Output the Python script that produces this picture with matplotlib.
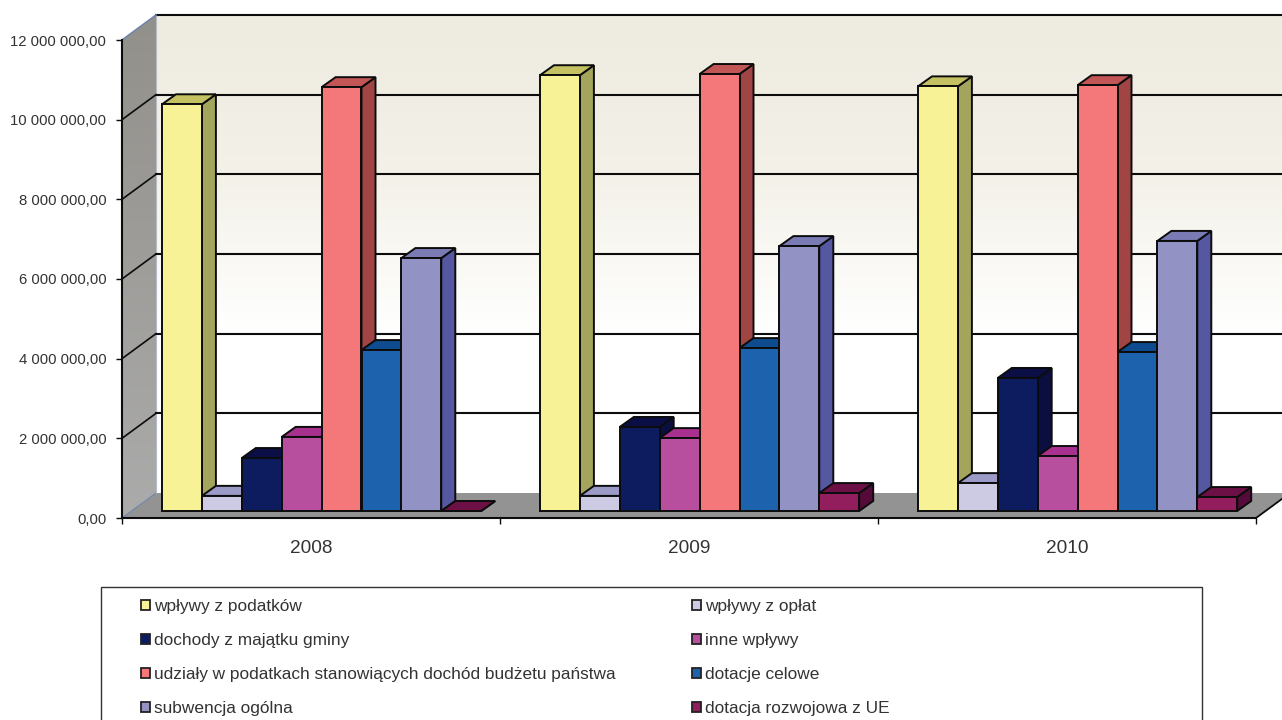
import matplotlib
matplotlib.use('Agg')
import matplotlib.pyplot as plt
import numpy as np
from matplotlib.colors import LinearSegmentedColormap
from matplotlib.patches import Patch, Polygon, Rectangle

plt.rcParams['font.family'] = ['Liberation Sans', 'DejaVu Sans']

# dane
years = ['2008', '2009', '2010']
labels = ['wpływy z podatków', 'wpływy z opłat', 'dochody z majątku gminy', 'inne wpływy',
          'udziały w podatkach stanowiących dochód budżetu państwa', 'dotacje celowe',
          'subwencja ogólna', 'dotacja rozwojowa z UE']
podatki = [10210000, 10940000, 10660000]
oplaty = [380000, 380000, 700000]
majatek = [1330000, 2110000, 3340000]
inne = [1860000, 1830000, 1380000]
udzialy = [10640000, 10970000, 10690000]
celowe = [4040000, 4090000, 3990000]
subwencja = [6350000, 6650000, 6780000]
rozwojowa = [0, 450000, 350000]
series = [podatki, oplaty, majatek, inne, udzialy, celowe, subwencja, rozwojowa]
y_ticks = [0, 2000000, 4000000, 6000000, 8000000, 10000000, 12000000]

# kolory: przód, bok, góra
front = ['#F8F297', '#CCCBE3', '#0D1C5E', '#B84F9E', '#F4777A', '#1C62AC', '#9392C5', '#931E5E']
side = ['#A3A55C', '#8080B0', '#0B0F40', '#8A2A78', '#A04444', '#0E4584', '#5558A0', '#560A3A']
top = ['#C4C163', '#9C9BC8', '#0B0F45', '#A8308F', '#C25555', '#0E4C8F', '#7A7BB5', '#6C1045']

ink = '#0C0C0C'
text_col = '#333333'

# przeliczenie pikseli na jednostki osi
sx = 1 / 378
sy = 12e6 / 478
wall_dx, wall_dy = 34 * sx, 25 * sy
bar_dx, bar_dy = 14 * sx, 10 * sy
bar_w = 39.9 * sx
bar_start = 40 * sx
lift = 7 * sy
x_max = 1160 * sx
y_max = 518 * sy

fig = plt.figure(figsize=(12.82, 7.2), dpi=100)
ax = fig.add_axes([122 / 1282, 202 / 720, 1160 / 1282, 518 / 720])
ax.patch.set_visible(False)

# tylna ściana z gradientem
wall_cmap = LinearSegmentedColormap.from_list('wall', ['#EEEBE0', '#F3F1E8', '#FFFFFF', '#FFFFFF'])
ax.imshow(np.linspace(0, 1, 256).reshape(-1, 1), cmap=wall_cmap, aspect='auto', zorder=1,
          extent=[wall_dx, x_max, wall_dy, 12e6 + wall_dy], origin='upper')

# lewa ściana
side_cmap = LinearSegmentedColormap.from_list('side', ['#92908A', '#ABABAB'])
im = ax.imshow(np.linspace(0, 1, 256).reshape(-1, 1), cmap=side_cmap, aspect='auto', zorder=1,
               extent=[0, wall_dx, 0, 12e6 + wall_dy], origin='upper')
clip = Polygon([(0, 0), (wall_dx, wall_dy), (wall_dx, 12e6 + wall_dy), (0, 12e6)],
               transform=ax.transData)
im.set_clip_path(clip)
ax.set_xlim(0, x_max)
ax.set_ylim(0, y_max)

# podłoga
ax.add_patch(Polygon([(0, 0), (3, 0), (3 + wall_dx, wall_dy), (wall_dx, wall_dy)],
                     facecolor='#939393', edgecolor='none', zorder=2))
ax.plot([3, 3 + wall_dx], [0, wall_dy], color=ink, lw=1.3, zorder=3)
ax.plot([0, wall_dx], [0, wall_dy], color='#6F86A8', lw=0.8, zorder=3)
ax.plot([wall_dx, wall_dx], [wall_dy, 12e6 + wall_dy], color='#B5BBCB', lw=0.8, zorder=3)

# siatka
for t in y_ticks[1:]:
    ax.plot([wall_dx, x_max], [t + wall_dy, t + wall_dy], color=ink, lw=1.5, zorder=3)
    col = '#6F86A8' if t == 12000000 else ink
    ax.plot([0, wall_dx], [t, t + wall_dy], color=col, lw=1.2, zorder=3)

# słupki rysowane od lewej do prawej, żeby się poprawnie zasłaniały
z = 5
for g in range(len(years)):
    for s, vals in enumerate(series):
        v = vals[g]
        x0 = g + bar_start + s * bar_w
        x1 = x0 + bar_w
        y0 = lift
        y1 = lift + v
        ax.add_patch(Polygon([(x1, y0), (x1 + bar_dx, y0 + bar_dy), (x1 + bar_dx, y1 + bar_dy), (x1, y1)],
                             facecolor=side[s], edgecolor=ink, lw=1.4, zorder=z))
        ax.add_patch(Polygon([(x0, y1), (x1, y1), (x1 + bar_dx, y1 + bar_dy), (x0 + bar_dx, y1 + bar_dy)],
                             facecolor=top[s], edgecolor=ink, lw=1.4, zorder=z))
        ax.bar(x0, v, width=bar_w, bottom=y0, align='edge', color=front[s], edgecolor=ink,
               linewidth=1.4, zorder=z + 0.5)
        z += 1

# osie
for name in ['top', 'right']:
    ax.spines[name].set_visible(False)
ax.spines['left'].set_bounds(0, 12e6)
ax.spines['bottom'].set_bounds(0, 3)
for name in ['left', 'bottom']:
    ax.spines[name].set_linewidth(1.5)
    ax.spines[name].set_color(ink)
    ax.spines[name].set_zorder(4)

ax.set_yticks(y_ticks)
ax.set_yticklabels(['{:,.2f}'.format(t).replace(',', ' ').replace('.', ',') for t in y_ticks])
ax.set_xticks([0, 1, 2, 3])
ax.set_xticklabels([])
ax.set_xticks([0.5, 1.5, 2.5], minor=True)
ax.set_xticklabels(years, minor=True)
ax.tick_params(axis='y', length=4.5, width=1, color=ink, labelsize=10.7, labelcolor=text_col, pad=6.8)
ax.tick_params(axis='x', which='major', length=4, width=1, color=ink)
ax.tick_params(axis='x', which='minor', length=0, labelsize=13.7, labelcolor=text_col, pad=16)

# legenda: ramka wychodzi poza dół rysunku
fig.add_artist(Rectangle((101 / 1282, -10 / 720), 1101 / 1282, 143 / 720, transform=fig.transFigure,
                         facecolor='white', edgecolor='#333333', lw=1.0))
# kolejność kolumnami, jak w oryginale
order = [0, 2, 4, 6, 1, 3, 5, 7]
handles = [Patch(facecolor=front[i], edgecolor='#222222', lw=1.3) for i in order]
leg = fig.legend(handles, [labels[i] for i in order], ncol=2, frameon=False, loc='upper left',
                 bbox_to_anchor=(141 / 1282, (720 - 599) / 720), borderaxespad=0, borderpad=0,
                 fontsize=12.4, labelcolor=text_col, handlelength=0.55, handleheight=0.55,
                 handletextpad=0.2, labelspacing=1.11, columnspacing=4.43)

fig.savefig('out.png', dpi=100)
